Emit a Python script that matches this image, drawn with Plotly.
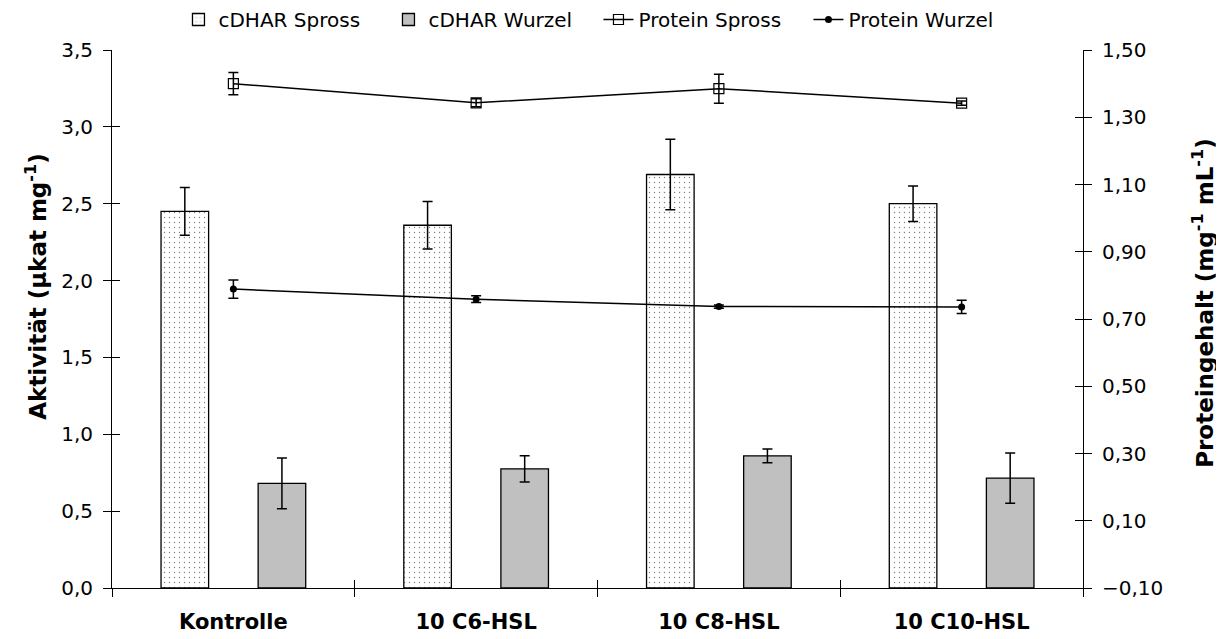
import plotly.graph_objects as go

categories = ["Kontrolle", "10 C6-HSL", "10 C8-HSL", "10 C10-HSL"]

cdhar_spross = [2.45, 2.36, 2.69, 2.50]
cdhar_spross_err = [0.155, 0.155, 0.23, 0.115]
cdhar_wurzel = [0.68, 0.775, 0.86, 0.715]
cdhar_wurzel_err = [0.165, 0.085, 0.045, 0.163]

protein_spross = [1.40, 1.343, 1.385, 1.342]
protein_spross_err = [0.033, 0.012, 0.043, 0.006]
protein_wurzel = [0.789, 0.759, 0.737, 0.736]
protein_wurzel_err = [0.027, 0.01, 0.005, 0.02]

left_ticks = [0.0, 0.5, 1.0, 1.5, 2.0, 2.5, 3.0, 3.5]
right_ticks = [-0.10, 0.10, 0.30, 0.50, 0.70, 0.90, 1.10, 1.30, 1.50]

left_title = "Aktivität (µkat mg<sup>-1</sup>)"
right_title = "Proteingehalt (mg<sup>-1</sup> mL<sup>-1</sup>)"

FONT = "DejaVu Sans"
err_style = dict(type="data", color="black", thickness=1.5, width=5)

fig = go.Figure()
fig.add_trace(go.Bar(
    x=categories, y=cdhar_spross, name="cDHAR Spross",
    marker=dict(color="white", line=dict(color="black", width=1.3),
                pattern=dict(shape=".", fgcolor="black", bgcolor="white", size=5, solidity=0.06)),
    error_y=dict(array=cdhar_spross_err, **err_style),
))
fig.add_trace(go.Bar(
    x=categories, y=cdhar_wurzel, name="cDHAR Wurzel",
    marker=dict(color="#c0c0c0", line=dict(color="black", width=1.3)),
    error_y=dict(array=cdhar_wurzel_err, **err_style),
))
fig.add_trace(go.Scatter(
    x=categories, y=protein_spross, name="Protein Spross", yaxis="y2",
    mode="lines+markers", line=dict(color="black", width=1.5),
    marker=dict(symbol="square-open", size=10, color="black", line=dict(width=1.2)),
    error_y=dict(array=protein_spross_err, **err_style),
))
fig.add_trace(go.Scatter(
    x=categories, y=protein_wurzel, name="Protein Wurzel", yaxis="y2",
    mode="lines+markers", line=dict(color="black", width=1.5),
    marker=dict(symbol="circle", size=7, color="black"),
    error_y=dict(array=protein_wurzel_err, **err_style),
))

axis_common = dict(showgrid=False, zeroline=False, showline=True, linecolor="black", linewidth=1,
                   tickcolor="black", ticklen=8, tickwidth=1)
inside_ticks = dict(ticks="inside", showticklabels=False, showgrid=False, zeroline=False,
                    showline=False, tickcolor="black", ticklen=8, tickwidth=1)

fig.update_layout(
    width=1224, height=639,
    paper_bgcolor="white", plot_bgcolor="white",
    separators=",.",
    font=dict(family=FONT, size=20, color="black"),
    margin=dict(l=104, r=149, t=42, b=59, autoexpand=False),
    barmode="group", bargap=0.2, bargroupgap=0.51,
    showlegend=True,
    legend=dict(orientation="h", x=0.501, xanchor="center", yref="container", y=0.982, yanchor="middle",
                font=dict(size=20), bgcolor="rgba(0,0,0,0)", traceorder="normal",
                entrywidth=165, entrywidthmode="pixels"),
    xaxis=dict(type="category", ticks="outside", tickson="boundaries", ticklabelstandoff=15,
               tickfont=dict(size=21, family=FONT, weight="bold"), **axis_common),
    xaxis2=dict(overlaying="x", anchor="y", type="linear", range=[-0.5, len(categories) - 0.5],
                tickvals=[i - 0.5 for i in range(len(categories) + 1)], **inside_ticks),
    yaxis=dict(range=[0, 3.5], tickvals=left_ticks, tickformat=".1f", ticks="outside",
               ticklabelstandoff=6, tickfont=dict(size=20), **axis_common),
    yaxis2=dict(overlaying="y", side="right", anchor="x", range=[-0.1, 1.5], tickvals=right_ticks,
                tickformat=".2f", ticks="outside", ticklabelstandoff=6, tickfont=dict(size=20),
                **axis_common),
    yaxis3=dict(overlaying="y", anchor="x", side="left", range=[0, 3.5], tickvals=left_ticks, **inside_ticks),
    yaxis4=dict(overlaying="y", anchor="x", side="right", range=[-0.1, 1.5], tickvals=right_ticks, **inside_ticks),
    annotations=[
        dict(text=left_title, xref="paper", yref="paper", x=0, y=0.56, xshift=-76,
             xanchor="center", yanchor="middle", textangle=-90, showarrow=False,
             font=dict(size=23, weight="bold", family=FONT)),
        dict(text=right_title, xref="paper", yref="paper", x=1, y=0.53, xshift=120,
             xanchor="center", yanchor="middle", textangle=-90, showarrow=False,
             font=dict(size=23, weight="bold", family=FONT)),
    ],
)

# invisible helper traces so the tick-only overlay axes are drawn
fig.add_trace(go.Scatter(x=[0], y=[0], xaxis="x2", yaxis="y3", mode="markers",
                         marker=dict(opacity=0), showlegend=False, hoverinfo="skip"))
fig.add_trace(go.Scatter(x=[0], y=[0.5], xaxis="x2", yaxis="y4", mode="markers",
                         marker=dict(opacity=0), showlegend=False, hoverinfo="skip"))

fig.write_html("out.html")
